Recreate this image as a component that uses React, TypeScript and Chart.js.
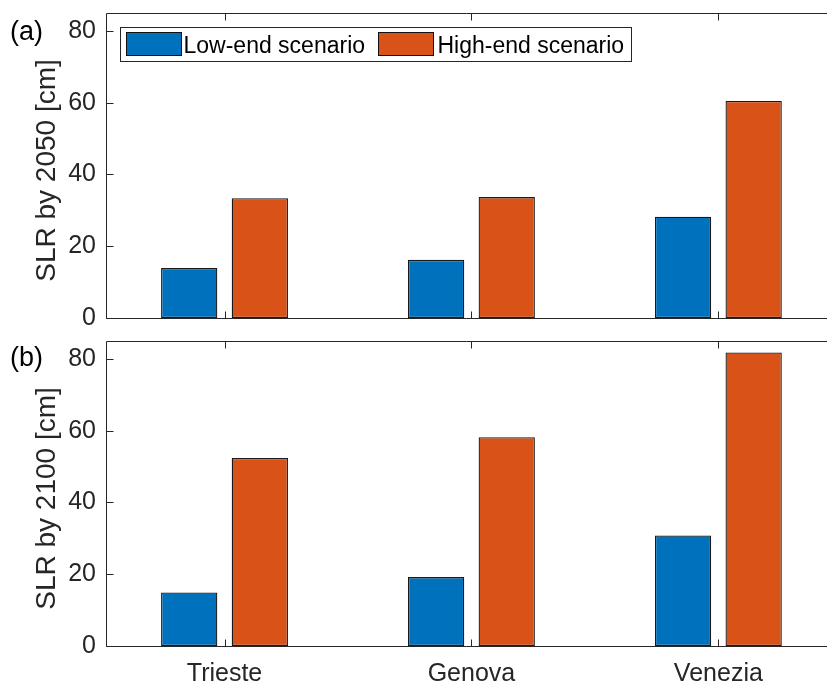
import React, { useEffect, useRef } from "react";
import { Chart, registerables } from "chart.js";

Chart.register(...registerables);

// Sea-level rise projections per city (cm)
const cities = ["Trieste", "Genova", "Venezia"];
const seriesNames = ["Low-end scenario", "High-end scenario"];
const low2050 = [13.9, 16.2, 28.2];
const high2050 = [33.4, 33.7, 60.5];
const low2100 = [14.9, 19.2, 30.8];
const high2100 = [52.4, 58.2, 81.8];
const yTicks = [0, 20, 40, 60, 80];
const yLabels = ["SLR by 2050 [cm]", "SLR by 2100 [cm]"];
const panelTags = ["(a)", "(b)"];

const BLUE = "#0072BD";
const ORANGE = "#D95319";
const AXIS = "#262626";
const FONT = "'Liberation Sans', Arial, Helvetica, sans-serif";

const X_MIN = 0.52;
const X_MAX = 3.44;
const Y_MAX = 85;

// Axes frame, inward tick marks, y label, panel tag and legend
const framePlugin = {
  id: "frame",
  afterDatasetsDraw(chart: any, _args: any, opts: any) {
    const { ctx, chartArea: a, scales } = chart;
    const xs = scales.x;
    const ys = scales.y;
    const L = Math.round(a.left) + 0.5;
    const T = Math.round(a.top) + 0.5;
    const B = Math.round(a.bottom) + 0.5;
    ctx.save();
    ctx.strokeStyle = AXIS;
    ctx.lineWidth = 1;
    ctx.beginPath();
    ctx.moveTo(a.right, T);
    ctx.lineTo(L, T);
    ctx.lineTo(L, B);
    ctx.lineTo(a.right, B);
    ctx.stroke();

    const tick = 7;
    ctx.beginPath();
    yTicks.forEach((v) => {
      const py = Math.round(ys.getPixelForValue(v)) + 0.5;
      ctx.moveTo(L, py);
      ctx.lineTo(L + tick, py);
    });
    cities.forEach((_c, i) => {
      const px = Math.round(xs.getPixelForValue(i + 1)) + 0.5;
      ctx.moveTo(px, T);
      ctx.lineTo(px, T + tick);
      ctx.moveTo(px, B);
      ctx.lineTo(px, B - tick);
    });
    ctx.stroke();

    // y label
    ctx.fillStyle = AXIS;
    ctx.font = `28px ${FONT}`;
    ctx.textAlign = "center";
    ctx.textBaseline = "alphabetic";
    ctx.save();
    ctx.translate(55, (a.top + a.bottom) / 2 + 5);
    ctx.rotate(-Math.PI / 2);
    ctx.fillText(opts.label, 0, 0);
    ctx.restore();

    // panel tag
    ctx.fillStyle = "#000";
    ctx.font = `27px ${FONT}`;
    ctx.textAlign = "left";
    ctx.fillText(opts.tag, 10, opts.tagY);

    if (opts.legend) {
      const bx = 120.5, by = 27.5, bw = 511, bh = 34;
      ctx.fillStyle = "#fff";
      ctx.fillRect(bx, by, bw, bh);
      ctx.strokeStyle = AXIS;
      ctx.strokeRect(bx, by, bw, bh);
      const entries = [
        { c: BLUE, sx: 126.5, tx: 183.5, name: seriesNames[0] },
        { c: ORANGE, sx: 378.5, tx: 437.5, name: seriesNames[1] },
      ];
      ctx.font = `23px ${FONT}`;
      entries.forEach((e) => {
        ctx.fillStyle = e.c;
        ctx.fillRect(e.sx, 32.5, 55, 23);
        ctx.strokeStyle = "#111";
        ctx.strokeRect(e.sx, 32.5, 55, 23);
        ctx.fillStyle = "#000";
        ctx.fillText(e.name, e.tx, 53);
      });
    }
    ctx.restore();
  },
};

function buildConfig(low: number[], high: number[], idx: number, showX: boolean, padTop: number, padBottom: number, xHeight: number) {
  const toPts = (arr: number[]) => arr.map((v, i) => ({ x: i + 1, y: v }));
  const barStyle = {
    borderColor: "#1a1a1a",
    borderWidth: 1.3,
    borderSkipped: false,
    inflateAmount: 0,
    categoryPercentage: 0.572,
    barPercentage: 0.797,
  };
  return {
    type: "bar" as const,
    data: {
      datasets: [
        { label: seriesNames[0], data: toPts(low), backgroundColor: BLUE, ...barStyle },
        { label: seriesNames[1], data: toPts(high), backgroundColor: ORANGE, ...barStyle },
      ],
    },
    options: {
      responsive: false,
      maintainAspectRatio: false,
      animation: false as const,
      layout: { padding: { top: padTop, bottom: padBottom, left: 0, right: 0 } },
      plugins: {
        legend: { display: false },
        tooltip: { enabled: false },
        frame: {
          label: yLabels[idx],
          tag: panelTags[idx],
          tagY: idx === 0 ? 40 : 36,
          legend: idx === 0,
        },
      } as any,
      scales: {
        x: {
          type: "linear" as const,
          display: showX,
          offset: false,
          min: X_MIN,
          max: X_MAX,
          grid: { display: false, drawTicks: false },
          border: { display: false },
          afterBuildTicks: (s: any) => {
            s.ticks = cities.map((_c, i) => ({ value: i + 1 }));
          },
          afterFit: (s: any) => {
            s.height = xHeight;
            s.paddingLeft = 0;
            s.paddingRight = 0;
          },
          ticks: {
            autoSkip: false,
            maxRotation: 0,
            padding: 13,
            color: AXIS,
            font: { family: FONT, size: 25 },
            callback: (v: any) => cities[Math.round(v) - 1] ?? "",
          },
        },
        y: {
          type: "linear" as const,
          min: 0,
          max: Y_MAX,
          grid: { display: false, drawTicks: false },
          border: { display: false },
          afterBuildTicks: (s: any) => {
            s.ticks = yTicks.map((v) => ({ value: v }));
          },
          afterFit: (s: any) => {
            s.width = 106;
            s.paddingTop = 0;
            s.paddingBottom = 0;
          },
          ticks: {
            padding: 10,
            color: AXIS,
            font: { family: FONT, size: 25 },
          },
        },
      },
    },
    plugins: [framePlugin],
  };
}

export default function App() {
  const topRef = useRef<HTMLCanvasElement>(null);
  const botRef = useRef<HTMLCanvasElement>(null);

  useEffect(() => {
    const top = new Chart(topRef.current!, buildConfig(low2050, high2050, 0, false, 13, 12, 0) as any);
    const bot = new Chart(botRef.current!, buildConfig(low2100, high2100, 1, true, 11, 0, 41) as any);
    return () => {
      top.destroy();
      bot.destroy();
    };
  }, []);

  return (
    <div style={{ position: "absolute", left: 0, top: 0, width: 827, height: 687, background: "#fff" }}>
      <canvas ref={topRef} width={827} height={330} style={{ position: "absolute", left: 0, top: 0, width: 827, height: 330 }} />
      <canvas ref={botRef} width={827} height={357} style={{ position: "absolute", left: 0, top: 330, width: 827, height: 357 }} />
    </div>
  );
}
